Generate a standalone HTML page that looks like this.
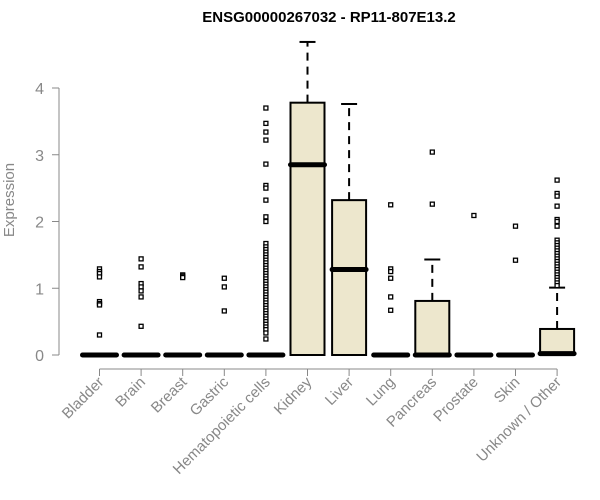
<!DOCTYPE html>
<html><head><meta charset="utf-8"><style>
body{margin:0;background:#fff}
svg{display:block;font-family:"Liberation Sans",Arial,sans-serif}
</style></head><body>
<svg id="c" width="600" height="500" xmlns="http://www.w3.org/2000/svg">
<text x="329" y="22" text-anchor="middle" font-weight="bold" font-size="15" fill="#000">ENSG00000267032 - RP11-807E13.2</text>
<text transform="translate(14,200) rotate(-90)" text-anchor="middle" font-size="15" fill="#888">Expression</text>
<g id="axes"></g><g id="boxes"></g>
</svg>
<script>
const categories=["Bladder","Brain","Breast","Gastric","Hematopoietic cells","Kidney","Liver","Lung","Pancreas","Prostate","Skin","Unknown / Other"];
const q1=[0,0,0,0,0,0,0,0,0,0,0,0];
const medians=[0,0,0,0,0,2.85,1.28,0,0,0,0,0.02];
const q3=[0,0,0,0,0,3.78,2.32,0,0.81,0,0,0.39];
const whiskerLo=[0,0,0,0,0,0,0,0,0,0,0,0];
const whiskerHi=[0,0,0,0,0,4.69,3.76,0,1.43,0,0,1.01];
const outliers=[
[1.29,1.25,1.22,1.17,0.80,0.77,0.75,0.30],
[1.44,1.32,1.07,1.02,0.96,0.87,0.43],
[1.20,1.18,1.16],
[1.15,1.02,0.66],
[3.70,3.47,3.34,3.22,2.86,2.54,2.50,2.32,2.07,2.00,1.67,1.62,1.58,1.54,1.50,1.46,1.42,1.38,1.34,1.30,1.26,1.22,1.18,1.14,1.10,1.06,1.02,0.98,0.94,0.90,0.86,0.82,0.78,0.74,0.70,0.66,0.62,0.58,0.54,0.50,0.46,0.42,0.38,0.33,0.24],
[],[],
[2.25,1.29,1.25,1.15,0.87,0.67],
[3.04,2.26],
[2.09],
[1.93,1.42],
[2.62,2.42,2.38,2.23,2.03,2.00,1.93,1.72,1.68,1.64,1.60,1.56,1.52,1.48,1.44,1.40,1.36,1.32,1.28,1.24,1.20,1.16,1.12,1.08,1.04]
];
const yTicks=[0,1,2,3,4];
const NS="http://www.w3.org/2000/svg";
function xs(i){return 99.5+i*41.6;}
function ys(v){return 355-v*66.75;}
function mk(tag,attrs,parent){const e=document.createElementNS(NS,tag);for(const k in attrs)e.setAttribute(k,attrs[k]);parent.appendChild(e);return e;}
const ax=document.getElementById('axes'),bx=document.getElementById('boxes');
let yl=mk('line',{x1:59,x2:59,y1:ys(0),y2:ys(4),stroke:'#888'},ax);


yTicks.forEach(t=>{
 const l=mk('line',{x1:52,x2:59,y1:ys(t),y2:ys(t),stroke:'#888'},ax);
 
 
 const tx=mk('text',{x:44,y:ys(t)+6,'text-anchor':'end','font-size':16,fill:'#888'},ax);
 tx.textContent=t;
 
 
});
let xl=mk('line',{x1:xs(0),x2:xs(categories.length-1),y1:369,y2:369,stroke:'#888'},ax);


categories.forEach((c,i)=>{
 const x=xs(i);
 const l=mk('line',{x1:x,x2:x,y1:369,y2:376,stroke:'#888'},ax);
 
 
 const tx=mk('text',{transform:`translate(${x+5},${383}) rotate(-45)`,'text-anchor':'end','font-size':15,fill:'#888'},ax);
 tx.textContent=c;
 
 
 const g=mk('g',{},bx);
 
 
 const w=34;
 if(whiskerHi[i]>q3[i]){
  mk('line',{x1:x,x2:x,y1:ys(q3[i]),y2:ys(whiskerHi[i]),stroke:'#000','stroke-width':2,'stroke-dasharray':'8,6'},g);
  mk('line',{x1:x-8,x2:x+8,y1:ys(whiskerHi[i]),y2:ys(whiskerHi[i]),stroke:'#000','stroke-width':2},g);
 }
 if(q3[i]>q1[i]){
  mk('rect',{x:x-w/2,y:ys(q3[i]),width:w,height:ys(q1[i])-ys(q3[i]),fill:'#ede7cd',stroke:'#000','stroke-width':2},g);
 }
 mk('line',{x1:x-w/2,x2:x+w/2,y1:ys(medians[i]),y2:ys(medians[i]),stroke:'#000','stroke-width':5,'stroke-linecap':'round'},g);
 outliers[i].forEach(v=>{
  mk('rect',{x:x-2,y:ys(v)-2,width:4,height:4,fill:'#fff',stroke:'#000','stroke-width':1.3},g);
 });
});
</script>
</body></html>
